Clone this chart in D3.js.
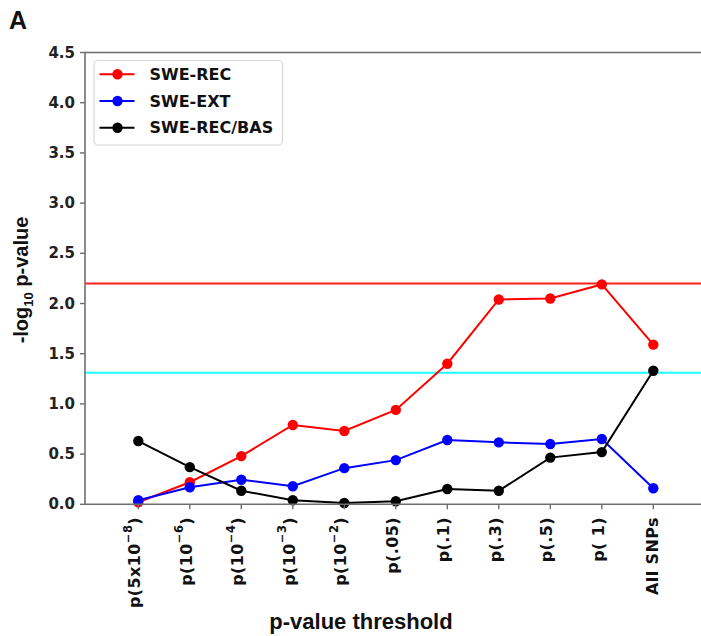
<!DOCTYPE html>
<html><head><meta charset="utf-8">
<script src="https://cdn.jsdelivr.net/npm/d3@7"></script>
<style>
html,body{margin:0;padding:0;background:#fff;}
svg{display:block;}
</style></head>
<body>
<script>
const categories = ["p(5x10-8)","p(10-6)","p(10-4)","p(10-3)","p(10-2)","p(.05)","p(.1)","p(.3)","p(.5)","p( 1)","All SNPs"];
const tickBase = ["p(5x10","p(10","p(10","p(10","p(10","p(.05)","p(.1)","p(.3)","p(.5)","p( 1)","All SNPs"];
const tickSup  = ["\u22128","\u22126","\u22124","\u22123","\u22122","","","","","",""];
const tickTail = [")",")",")",")",")","","","","","",""];
const sweRec    = [0.02, 0.22, 0.48, 0.79, 0.73, 0.94, 1.40, 2.04, 2.05, 2.19, 1.59];
const sweExt    = [0.04, 0.17, 0.245, 0.18, 0.36, 0.44, 0.64, 0.617, 0.60, 0.65, 0.16];
const sweRecBas = [0.63, 0.37, 0.135, 0.04, 0.013, 0.03, 0.152, 0.135, 0.465, 0.52, 1.33];
const yTicks = [0,0.5,1.0,1.5,2.0,2.5,3.0,3.5,4.0,4.5];
const thresholds = [2.2, 1.31];
const seriesNames = ["SWE-REC","SWE-EXT","SWE-REC/BAS"];

(function(){
const W=701,H=636;
const svg=d3.select("body").append("svg").attr("width",W).attr("height",H);
const pL=85, pR=701, pT=52.5, pB=504.3;
const x=d3.scalePoint().domain(categories).range([138.3,653.3]);
const y=d3.scaleLinear().domain([0,4.5]).range([pB,pT]);
const spineColor="#6e6e6e";
const tickFont="'DejaVu Sans', sans-serif";

// threshold lines
const thColors=["#ff2020","#20ffff"];
thresholds.forEach((t,i)=>{
  svg.append("line").attr("x1",pL).attr("x2",pR).attr("y1",y(t)).attr("y2",y(t))
    .attr("stroke",thColors[i]).attr("stroke-width",2);
});

// series
const series=[
  {name:seriesNames[0],vals:sweRec,color:"#ff0000"},
  {name:seriesNames[1],vals:sweExt,color:"#0000ff"},
  {name:seriesNames[2],vals:sweRecBas,color:"#000000"}
];
const line=d3.line().x((d,i)=>x(categories[i])).y(d=>y(d));
series.forEach(s=>{
  svg.append("path").datum(s.vals).attr("d",line).attr("fill","none")
    .attr("stroke",s.color).attr("stroke-width",2);
  svg.selectAll(null).data(s.vals).enter().append("circle")
    .attr("cx",(d,i)=>x(categories[i])).attr("cy",d=>y(d)).attr("r",5.2)
    .attr("fill",s.color);
});

// spines
svg.append("line").attr("x1",pL).attr("x2",pR).attr("y1",pT).attr("y2",pT).attr("stroke",spineColor).attr("stroke-width",1.6);
svg.append("line").attr("x1",pL).attr("x2",pR).attr("y1",pB).attr("y2",pB).attr("stroke",spineColor).attr("stroke-width",1.6);
svg.append("line").attr("x1",pL).attr("x2",pL).attr("y1",pT-0.8).attr("y2",pB+0.8).attr("stroke",spineColor).attr("stroke-width",1.6);

// y ticks
yTicks.forEach(t=>{
  svg.append("line").attr("x1",pL-5).attr("x2",pL).attr("y1",y(t)).attr("y2",y(t)).attr("stroke",spineColor).attr("stroke-width",1.4);
  svg.append("text").attr("x",pL-10).attr("y",y(t)).attr("text-anchor","end").attr("dominant-baseline","central")
    .attr("font-family",tickFont).attr("font-weight","bold").attr("font-size",15).attr("fill","#222")
    .text(t.toFixed(1));
});

// x ticks
categories.forEach((c,i)=>{
  const xx=x(c);
  svg.append("line").attr("x1",xx).attr("x2",xx).attr("y1",pB).attr("y2",pB+5).attr("stroke",spineColor).attr("stroke-width",1.4);
  const g=svg.append("g").attr("transform",`translate(${xx},517) rotate(-90)`);
  const shift = (tickBase[i].startsWith("p")) ? -4 : -1;
  const t=g.append("text").attr("x",0).attr("y",shift).attr("text-anchor","end").attr("dominant-baseline","central")
    .attr("font-family",tickFont).attr("font-weight","bold").attr("font-size",16).attr("letter-spacing",0.4).attr("fill","#111");
  t.append("tspan").text(tickBase[i]);
  if(tickSup[i]){
    t.append("tspan").attr("font-size",11.5).attr("dy",-6.5).text(tickSup[i]);
    t.append("tspan").attr("dy",6.5).text(tickTail[i]);
  }
});

// axis labels
svg.append("text").attr("x",361).attr("y",629).attr("text-anchor","middle")
  .attr("font-family","'Liberation Sans', Arial, sans-serif").attr("font-weight","bold").attr("font-size",22).attr("fill","#111")
  .text("p-value threshold");
const yl=svg.append("text").attr("transform","translate(28,280) rotate(-90)").attr("text-anchor","middle")
  .attr("font-family","'Liberation Sans', Arial, sans-serif").attr("font-weight","bold").attr("font-size",20).attr("fill","#111");
yl.append("tspan").text("-log");
yl.append("tspan").attr("font-size",13).attr("dy",5).text("10");
yl.append("tspan").attr("dy",-5).text(" p-value");

// panel letter
svg.append("text").attr("x",9).attr("y",29).attr("font-family","'Liberation Sans', Arial, sans-serif")
  .attr("font-weight","bold").attr("font-size",25).attr("fill","#111").text("A");

// legend
const lg=svg.append("g");
lg.append("rect").attr("x",94).attr("y",60.5).attr("width",188.5).attr("height",84.5).attr("rx",4)
  .attr("fill","#fff").attr("fill-opacity",0.85).attr("stroke","#d8d8d8").attr("stroke-width",1.2);
series.forEach((s,i)=>{
  const yy=74.3+i*26.7;
  lg.append("line").attr("x1",99.5).attr("x2",134.5).attr("y1",yy).attr("y2",yy).attr("stroke",s.color).attr("stroke-width",2);
  lg.append("circle").attr("cx",117.5).attr("cy",yy).attr("r",5.2).attr("fill",s.color);
  lg.append("text").attr("x",149.5).attr("y",yy).attr("dominant-baseline","central")
    .attr("font-family",tickFont).attr("font-weight","bold").attr("font-size",16).attr("fill","#111").text(s.name);
});
})();
</script>
</body></html>
